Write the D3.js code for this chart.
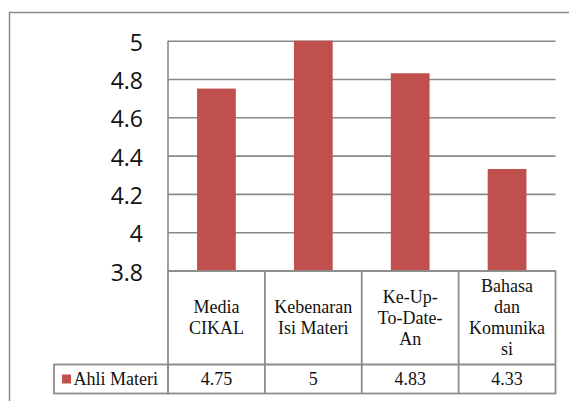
<!DOCTYPE html>
<html>
<head>
<meta charset="utf-8">
<script src="https://cdn.jsdelivr.net/npm/d3@7"></script>
<style>
  html, body { margin: 0; padding: 0; background: #fff; }
  svg { display: block; }
</style>
</head>
<body>
<svg id="chart" width="569" height="401"></svg>
<script>
// Category labels (each entry holds the lines shown in the table header cell)
const categories = ["Media CIKAL", "Kebenaran Isi Materi", "Ke-Up-To-Date-An", "Bahasa dan Komunikasi"];
const categoryLines = [
  ["Media", "CIKAL"],
  ["Kebenaran", "Isi Materi"],
  ["Ke-Up-", "To-Date-", "An"],
  ["Bahasa", "dan", "Komunika", "si"]
];
const seriesName = "Ahli Materi";
const seriesValues = [4.75, 5, 4.83, 4.33];
const valueLabels = ["4.75", "5", "4.83", "4.33"];
const yTicks = [3.8, 4, 4.2, 4.4, 4.6, 4.8, 5];

const barColor = "#C0504D";
const gridColor = "#898989";
const borderColor = "#8c8c8c";
const serif = '"Liberation Serif", "Times New Roman", serif';

const svg = d3.select("#chart");

// Outer chart frame (runs past the right and bottom edges of the view)
svg.append("rect")
  .attr("x", 9.5).attr("y", 12.5)
  .attr("width", 700).attr("height", 500)
  .attr("fill", "none")
  .attr("stroke", borderColor)
  .attr("stroke-width", 1.5);

const plotLeft = 168, plotRight = 555.5, plotTop = 40.7, plotBottom = 270.5;
const tableTop = 271, rowSplit = 364.5, tableBottom = 393.5, legendLeft = 54;

const x = d3.scaleBand().domain(categories).range([plotLeft, plotRight]).padding(0);
const y = d3.scaleLinear().domain([3.8, 5]).range([plotBottom, plotTop]);

// Gridlines and tick labels
const yAxis = d3.axisLeft(y)
  .tickValues(yTicks)
  .tickFormat(d => String(+d.toFixed(1)))
  .tickSizeInner(-(plotRight - plotLeft))
  .tickSizeOuter(0)
  .tickPadding(25);

const gy = svg.append("g")
  .attr("transform", `translate(${plotLeft},0)`)
  .call(yAxis);
gy.select(".domain").remove();
gy.selectAll(".tick line")
  .attr("stroke", gridColor)
  .attr("stroke-width", 1.6);
gy.selectAll(".tick text")
  .attr("fill", "#111")
  .style("font-family", '"Open Sans", "Noto Sans", sans-serif')
  .style("font-size", "23px")
  .attr("dy", "0.42em");

// Vertical axis line
svg.append("line")
  .attr("x1", plotLeft).attr("x2", plotLeft)
  .attr("y1", plotTop).attr("y2", tableTop)
  .attr("stroke", gridColor).attr("stroke-width", 1.6);

// Bars
const bw = x.bandwidth();
svg.append("g").selectAll("rect")
  .data(seriesValues)
  .join("rect")
  .attr("x", (d, i) => x(categories[i]) + bw * 0.3)
  .attr("width", bw * 0.4)
  .attr("y", d => y(d))
  .attr("height", d => y(3.8) - y(d))
  .attr("fill", barColor);

// Data table below the plot
const table = svg.append("g")
  .attr("fill", "none")
  .attr("stroke", borderColor)
  .attr("stroke-width", 1.8);

table.append("rect")
  .attr("x", plotLeft).attr("y", tableTop)
  .attr("width", plotRight - plotLeft).attr("height", tableBottom - tableTop);
table.append("rect")
  .attr("x", legendLeft).attr("y", rowSplit)
  .attr("width", plotLeft - legendLeft).attr("height", tableBottom - rowSplit);
table.append("line")
  .attr("x1", plotLeft).attr("x2", plotRight)
  .attr("y1", rowSplit).attr("y2", rowSplit);
table.selectAll("line.col")
  .data(categories.slice(1))
  .join("line")
  .attr("class", "col")
  .attr("x1", d => x(d)).attr("x2", d => x(d))
  .attr("y1", tableTop).attr("y2", tableBottom);

const lineH = 21;
const headMid = (tableTop + rowSplit) / 2;

// Header cells: category names
categories.forEach((c, i) => {
  const lines = categoryLines[i];
  const cx = x(c) + bw / 2;
  svg.append("g").selectAll("text")
    .data(lines)
    .join("text")
    .attr("x", cx)
    .attr("y", (d, j) => headMid + (j - (lines.length - 1) / 2) * lineH)
    .attr("dy", "0.33em")
    .attr("text-anchor", "middle")
    .style("font-family", serif)
    .style("font-size", "18px")
    .attr("fill", "#111")
    .text(d => d);
});

// Value row
const valueMid = (rowSplit + tableBottom) / 2;
svg.append("g").selectAll("text")
  .data(valueLabels)
  .join("text")
  .attr("x", (d, i) => x(categories[i]) + bw / 2)
  .attr("y", valueMid)
  .attr("dy", "0.33em")
  .attr("text-anchor", "middle")
  .style("font-family", serif)
  .style("font-size", "18px")
  .attr("fill", "#111")
  .text(d => d);

// Legend key and series name
svg.append("rect")
  .attr("x", 62).attr("y", valueMid - 4.5)
  .attr("width", 9).attr("height", 9)
  .attr("fill", barColor);
svg.append("text")
  .attr("x", 73.5)
  .attr("y", valueMid)
  .attr("dy", "0.33em")
  .style("font-family", serif)
  .style("font-size", "18px")
  .attr("fill", "#111")
  .text(seriesName);
</script>
</body>
</html>
